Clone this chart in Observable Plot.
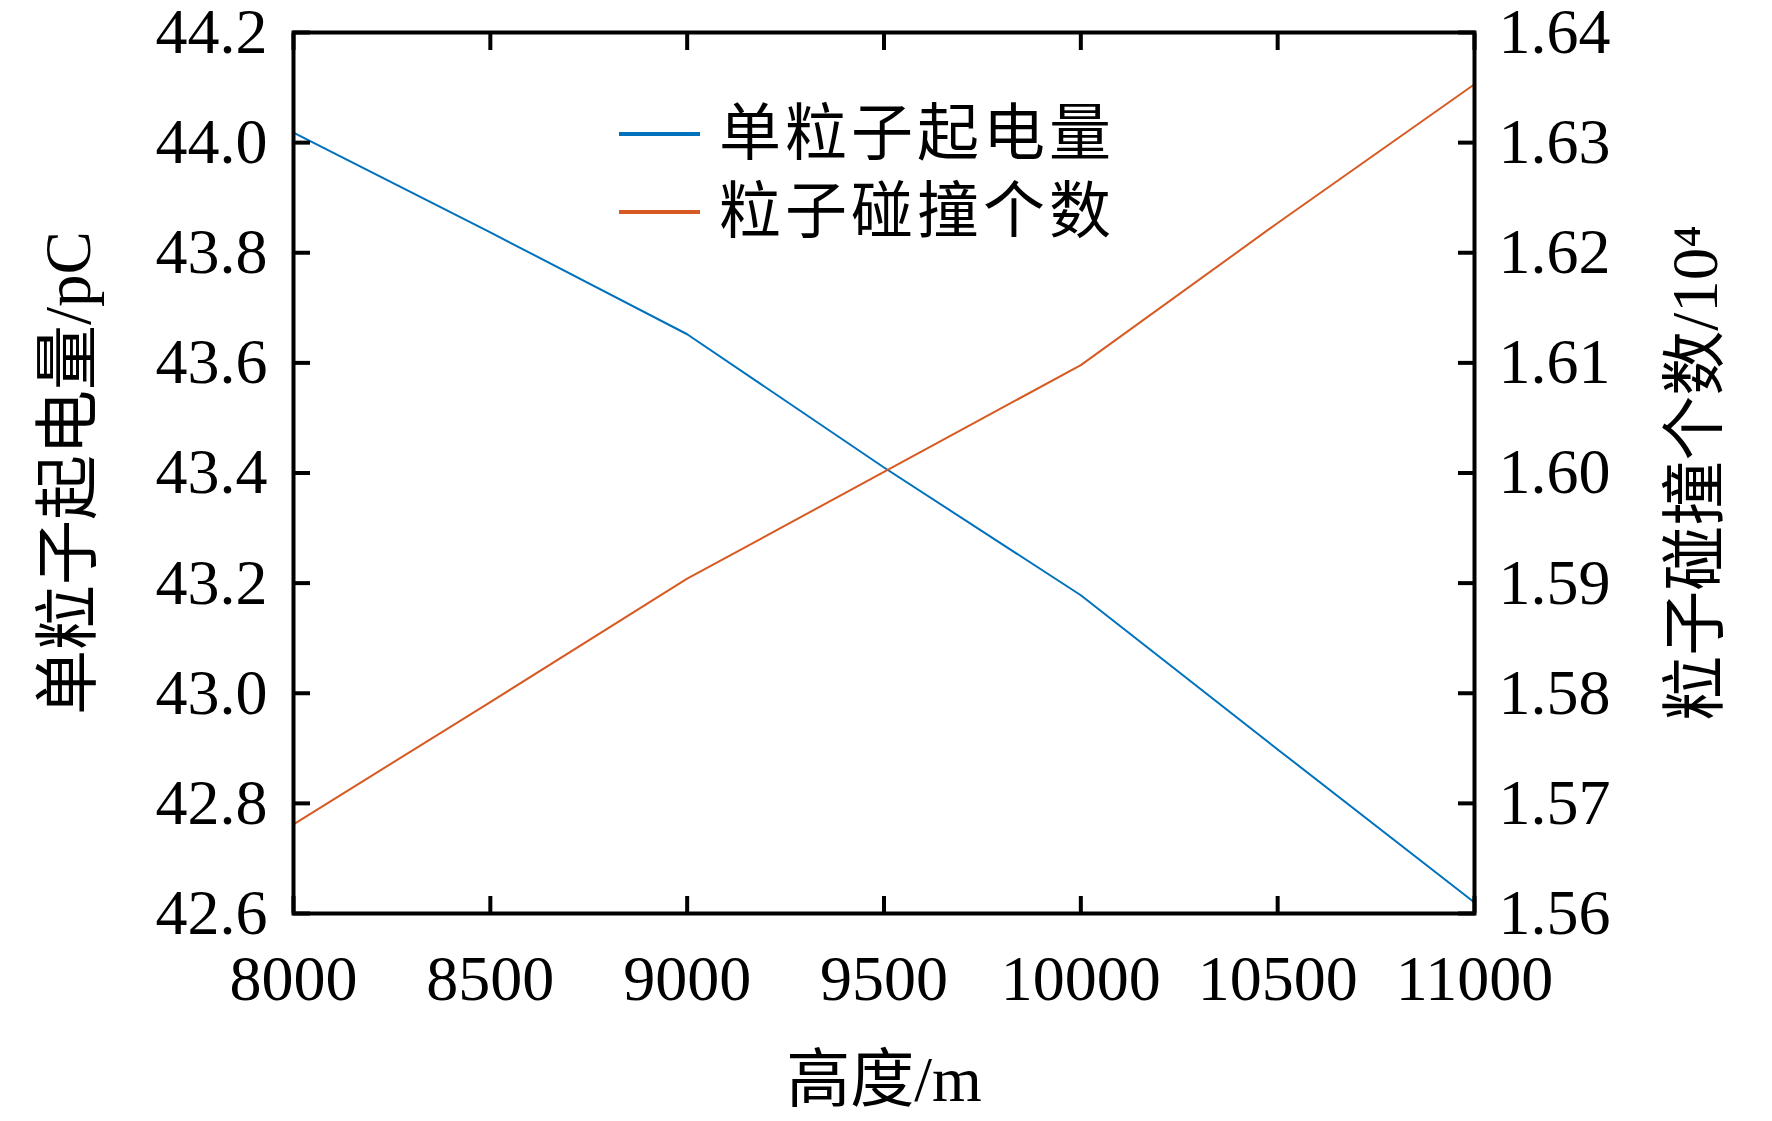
<!DOCTYPE html>
<html>
<head>
<meta charset="utf-8">
<script src="https://cdn.jsdelivr.net/npm/d3@7"></script>
<script src="https://cdn.jsdelivr.net/npm/@observablehq/plot@0.6"></script>
<style>
  body { margin: 0; background: white; }
  #wrap { position: relative; width: 1772px; height: 1121px; }
  #legend { position: absolute; left: 619px; top: 95px; font-family: 'Liberation Serif', 'Noto Sans CJK SC', serif; font-size: 62px; letter-spacing: 4px; }
  .row { display: flex; align-items: center; height: 78px; }
  .row span { position: relative; top: -6px; }
  .sw { width: 81px; height: 4px; margin-right: 19px; }
</style>
</head>
<body>
<div id="wrap"><div id="legend"></div></div>
<script>
// data
const heights = [8000, 8500, 9000, 9500, 10000, 10500, 11000];
const chargePerParticle = [44.018, 43.837, 43.652, 43.410, 43.178, 42.898, 42.620]; // pC, left axis
const collisionCount = [1.5681, 1.5792, 1.5904, 1.6001, 1.6098, 1.6227, 1.6353];    // x10^4, right axis
const xTicks = [8000, 8500, 9000, 9500, 10000, 10500, 11000];
const leftTicks = [42.6, 42.8, 43.0, 43.2, 43.4, 43.6, 43.8, 44.0, 44.2];
const rightTicks = [1.56, 1.57, 1.58, 1.59, 1.60, 1.61, 1.62, 1.63, 1.64];
const seriesNames = ["单粒子起电量", "粒子碰撞个数"];
const seriesColors = ["#0072BD", "#D65A22"];
const xLabel = "高度/m";
const leftLabel = "单粒子起电量/pC";
const rightLabel = "粒子碰撞个数/10⁴";

const leftDomain = [42.6, 44.2];
const rightDomain = [1.56, 1.64];
const toLeft = d3.scaleLinear().domain(rightDomain).range(leftDomain);

const blue = heights.map((h, i) => ({h, v: chargePerParticle[i]}));
const orange = heights.map((h, i) => ({h, v: toLeft(collisionCount[i])}));

const font = "'Liberation Serif', 'Noto Sans CJK SC', serif";
const tickLen = -17;

const chart = Plot.plot({
  width: 1772,
  height: 1121,
  marginLeft: 293,
  marginRight: 298,
  marginTop: 32,
  marginBottom: 208,
  style: {fontFamily: font, fontSize: "64px", background: "white", color: "black", overflow: "visible"},
  x: {domain: [8000, 11000]},
  y: {domain: leftDomain},
  marks: [
    Plot.line(blue, {x: "h", y: "v", stroke: seriesColors[0], strokeWidth: 2}),
    Plot.line(orange, {x: "h", y: "v", stroke: seriesColors[1], strokeWidth: 2}),
    Plot.axisX({anchor: "bottom", ticks: xTicks, tickSize: tickLen, tickPadding: 58, strokeWidth: 4, fontSize: 64, tickFormat: d => String(d), label: null}),
    Plot.axisX({anchor: "top", ticks: xTicks, tickSize: tickLen, strokeWidth: 4, tickFormat: () => "", label: null}),
    Plot.axisY({anchor: "left", ticks: leftTicks, tickSize: tickLen, tickPadding: 43, strokeWidth: 4, fontSize: 64, tickFormat: d3.format(".1f"), label: null}),
    Plot.axisY(rightTicks.map(toLeft), {anchor: "right", tickSize: tickLen, tickPadding: 41, strokeWidth: 4, fontSize: 64, tickFormat: d => d3.format(".2f")(toLeft.invert(d)), label: null}),
    Plot.frame({stroke: "black", strokeWidth: 4}),
    Plot.text([xLabel], {frameAnchor: "bottom", dy: 167, fontSize: 64, text: d => d, lineAnchor: "middle"}),
    Plot.text([leftLabel], {frameAnchor: "left", dx: -224, rotate: -90, fontSize: 65, text: d => d, textAnchor: "middle", lineAnchor: "middle"}),
    Plot.text([rightLabel], {frameAnchor: "right", dx: 222, rotate: -90, fontSize: 65, text: d => d, textAnchor: "middle", lineAnchor: "middle"})
  ]
});
document.getElementById("wrap").prepend(chart);

const legend = document.getElementById("legend");
seriesNames.forEach((name, i) => {
  const row = document.createElement("div");
  row.className = "row";
  const sw = document.createElement("div");
  sw.className = "sw";
  sw.style.background = seriesColors[i];
  const t = document.createElement("span");
  t.textContent = name;
  row.appendChild(sw);
  row.appendChild(t);
  legend.appendChild(row);
});
</script>
</body>
</html>
